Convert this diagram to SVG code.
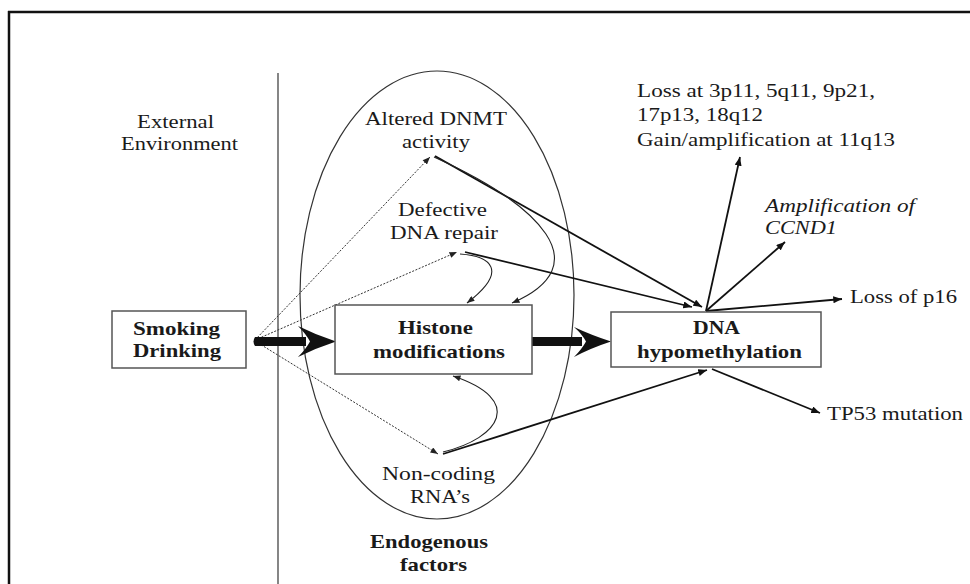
<svg xmlns="http://www.w3.org/2000/svg" width="970" height="584" viewBox="0 0 970 584">
<style>
  text { font-family: "Liberation Serif", "Times New Roman", serif; font-size: 19px; fill: #1a1a1a; }
  .b { font-weight: bold; }
  .i { font-style: italic; }
  .box { fill: #fff; stroke: #555; stroke-width: 1.5; }
  .solid { fill: none; stroke: #111; stroke-width: 1.8; }
  .thin { fill: none; stroke: #222; stroke-width: 1.1; }
  .dot { fill: none; stroke: #333; stroke-width: 1; stroke-dasharray: 2 1.5; }
  .thick { fill: #111; stroke: none; }
</style>
<defs>
  <marker id="ah" viewBox="0 0 10 8" refX="10" refY="4" markerWidth="9" markerHeight="7" orient="auto" markerUnits="userSpaceOnUse">
    <path d="M0,0 L10,4 L0,8 z" fill="#111"/>
  </marker>
  <marker id="ahs" viewBox="0 0 10 8" refX="10" refY="4" markerWidth="8" markerHeight="6" orient="auto" markerUnits="userSpaceOnUse">
    <path d="M0,0 L10,4 L0,8 z" fill="#222"/>
  </marker>
</defs>
<rect width="970" height="584" fill="#fff"/>

<g id="frame">
  <line x1="8" y1="12" x2="970" y2="12" stroke="#111" stroke-width="2.5"/>
  <line x1="9" y1="11" x2="9" y2="584" stroke="#111" stroke-width="2.5"/>
  <line x1="278" y1="73" x2="278" y2="584" stroke="#444" stroke-width="1.3"/>
</g>

<g id="external-environment">
  <text x="137" y="128" textLength="77" lengthAdjust="spacingAndGlyphs">External</text>
  <text x="121" y="150" textLength="117" lengthAdjust="spacingAndGlyphs">Environment</text>
</g>

<g id="endogenous-factors">
  <ellipse cx="437" cy="295" rx="137" ry="224" fill="none" stroke="#333" stroke-width="1.2"/>
  <text class="b" x="370" y="548" textLength="118" lengthAdjust="spacingAndGlyphs">Endogenous</text>
  <text class="b" x="400" y="571" textLength="67" lengthAdjust="spacingAndGlyphs">factors</text>
</g>

<g id="connectors">
  <!-- dotted from Smoking/Drinking -->
  <line class="dot" x1="255" y1="340" x2="430" y2="157" marker-end="url(#ahs)"/>
  <line class="dot" x1="255" y1="340" x2="457" y2="252" marker-end="url(#ahs)"/>
  <line class="dot" x1="255" y1="341" x2="438" y2="454" marker-end="url(#ahs)"/>
  <!-- thick arrows -->
  <g id="thick-1">
    <path class="thick" d="M255,337 L306,337 L306,346 L255,346 Q252,341.5 255,337 Z"/>
    <path class="thick" d="M336,341.5 Q316,335 298,326 Q306,334 310,341.5 Q306,349 298,357 Q316,348 336,341.5 Z"/>
  </g>
  <g id="thick-2">
    <path class="thick" d="M532,337 L582,337 L582,346 L532,346 Z"/>
    <path class="thick" d="M611,341.5 Q591,335 574,327 Q582,334 586,341.5 Q582,349 574,357 Q591,348 611,341.5 Z"/>
  </g>
  <!-- solid lines into DNA hypomethylation -->
  <line class="solid" x1="435" y1="156" x2="702" y2="307" marker-end="url(#ah)"/>
  <line class="solid" x1="465" y1="252" x2="692" y2="307" marker-end="url(#ah)"/>
  <line class="solid" x1="443" y1="454" x2="707" y2="370" marker-end="url(#ah)"/>
  <!-- curved feedback into Histone modifications -->
  <path class="thin" d="M434,157 C540,205 600,265 512,303" marker-end="url(#ahs)"/>
  <path class="thin" d="M460,254 C490,256 510,270 467,303" marker-end="url(#ahs)"/>
  <path class="thin" d="M443,452 C500,438 525,400 453,376" marker-end="url(#ahs)"/>
  <!-- outgoing from DNA hypomethylation -->
  <line class="solid" x1="706" y1="311" x2="740" y2="157" marker-end="url(#ah)"/>
  <line class="solid" x1="706" y1="311" x2="785" y2="242" marker-end="url(#ah)"/>
  <line class="solid" x1="706" y1="311" x2="842" y2="299" marker-end="url(#ah)"/>
  <line class="solid" x1="712" y1="369" x2="820" y2="413" marker-end="url(#ah)"/>
</g>

<g id="smoking-drinking">
  <rect class="box" x="112" y="311" width="134" height="57"/>
  <text class="b" x="133" y="335" textLength="87" lengthAdjust="spacingAndGlyphs">Smoking</text>
  <text class="b" x="133" y="357" textLength="88" lengthAdjust="spacingAndGlyphs">Drinking</text>
</g>

<g id="histone-modifications">
  <rect class="box" x="335" y="305" width="197" height="69"/>
  <text class="b" x="398" y="334" textLength="75" lengthAdjust="spacingAndGlyphs">Histone</text>
  <text class="b" x="373" y="358" textLength="132" lengthAdjust="spacingAndGlyphs">modifications</text>
</g>

<g id="dna-hypomethylation">
  <rect class="box" x="611" y="312" width="210" height="55"/>
  <text class="b" x="693" y="334" textLength="47" lengthAdjust="spacingAndGlyphs">DNA</text>
  <text class="b" x="637" y="358" textLength="165" lengthAdjust="spacingAndGlyphs">hypomethylation</text>
</g>

<g id="altered-dnmt">
  <text x="365" y="125" textLength="142" lengthAdjust="spacingAndGlyphs">Altered DNMT</text>
  <text x="402" y="148" textLength="68" lengthAdjust="spacingAndGlyphs">activity</text>
</g>

<g id="defective-repair">
  <text x="398" y="216" textLength="89" lengthAdjust="spacingAndGlyphs">Defective</text>
  <text x="390" y="239" textLength="108" lengthAdjust="spacingAndGlyphs">DNA repair</text>
</g>

<g id="non-coding-rna">
  <text x="382" y="480" textLength="113" lengthAdjust="spacingAndGlyphs">Non-coding</text>
  <text x="410" y="503" textLength="60" lengthAdjust="spacingAndGlyphs">RNA’s</text>
</g>

<g id="chromosomal-changes">
  <text x="637" y="97" textLength="238" lengthAdjust="spacingAndGlyphs">Loss at 3p11, 5q11, 9p21,</text>
  <text x="637" y="121" textLength="126" lengthAdjust="spacingAndGlyphs">17p13, 18q12</text>
  <text x="637" y="146" textLength="258" lengthAdjust="spacingAndGlyphs">Gain/amplification at 11q13</text>
</g>

<g id="ccnd1">
  <text class="i" x="765" y="212" textLength="150" lengthAdjust="spacingAndGlyphs">Amplification of</text>
  <text class="i" x="765" y="234" textLength="72" lengthAdjust="spacingAndGlyphs">CCND1</text>
</g>

<g id="loss-p16">
  <text x="850" y="303" textLength="107" lengthAdjust="spacingAndGlyphs">Loss of p16</text>
</g>

<g id="tp53">
  <text x="827" y="420" textLength="136" lengthAdjust="spacingAndGlyphs">TP53 mutation</text>
</g>
</svg>
